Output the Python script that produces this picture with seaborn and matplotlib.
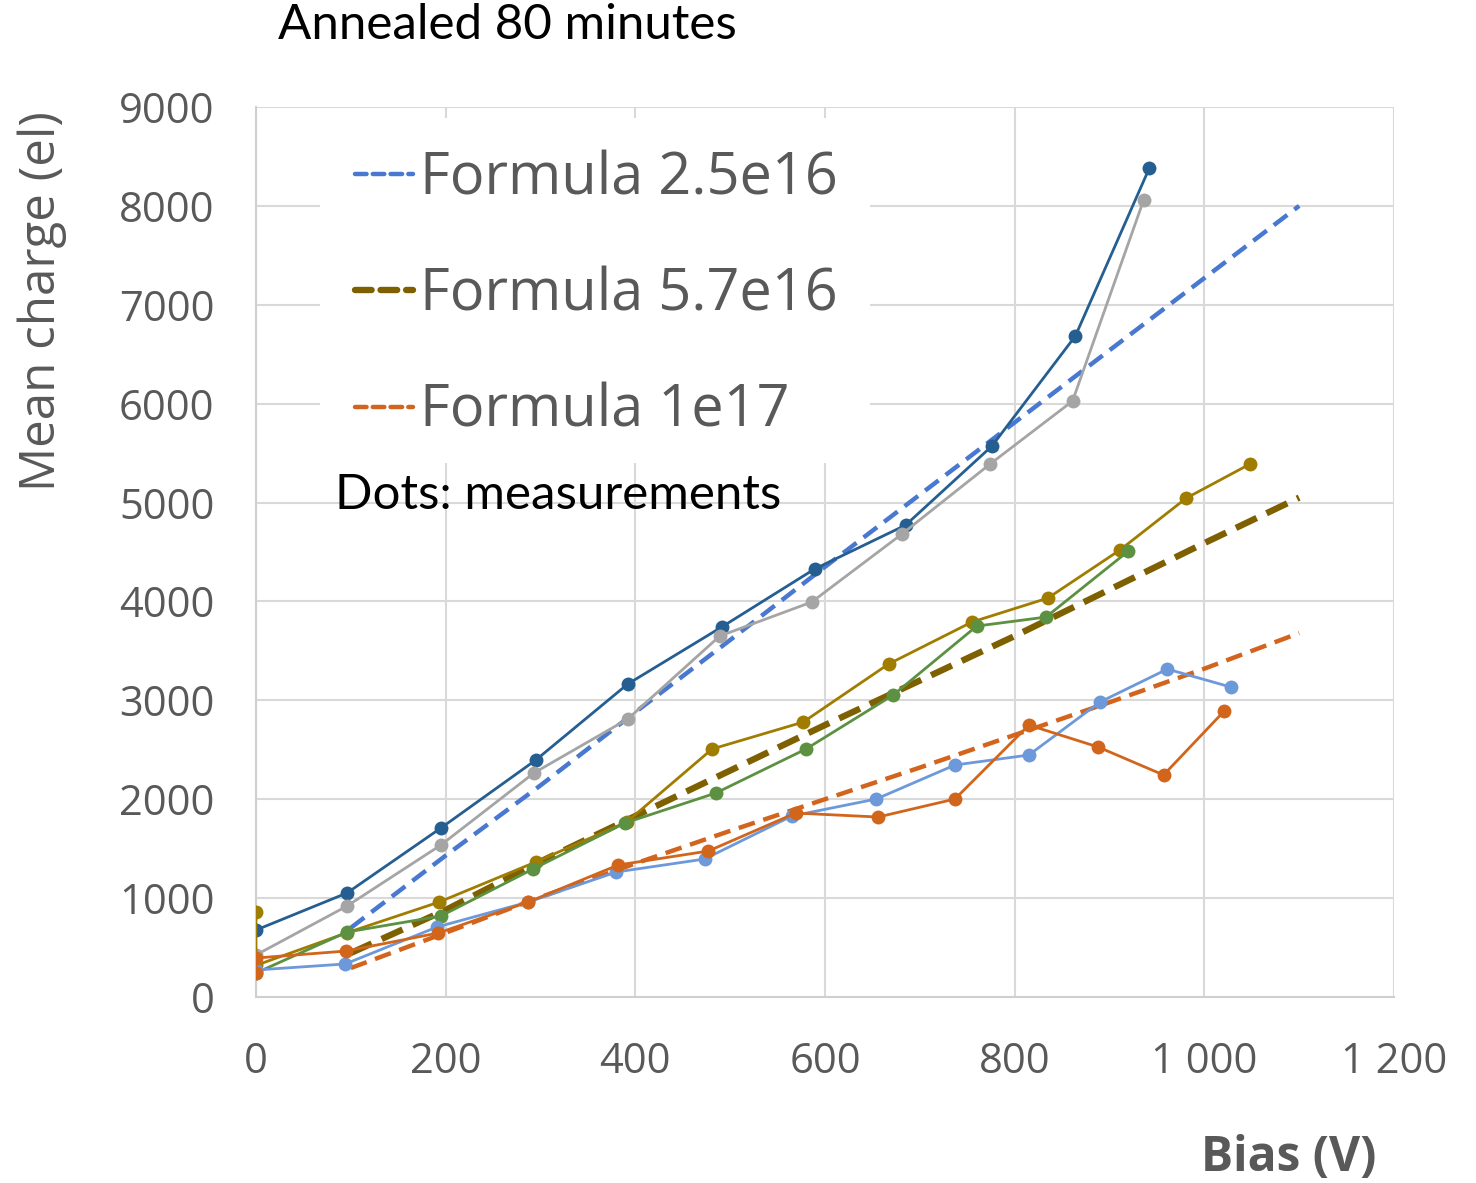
import matplotlib
matplotlib.use("Agg")
import matplotlib.pyplot as plt
import matplotlib.patches as mpatches
from matplotlib.lines import Line2D
from matplotlib.ticker import FuncFormatter
import seaborn as sns
import pandas as pd

# ---------------- data ----------------
bias_dark = [0, 96, 195, 295, 392, 491, 589, 685, 776, 864, 942]
q_dark = [677, 1052, 1709, 2396, 3165, 3741, 4328, 4772, 5571, 6684, 8382]

bias_gray = [0, 96, 195, 293, 392, 489, 586, 681, 774, 861, 936]
q_gray = [425, 920, 1537, 2265, 2811, 3650, 3994, 4681, 5389, 6026, 8059]

bias_gold = [0, 0, 96, 193, 295, 391, 481, 577, 667, 755, 835, 911, 981, 1048]
q_gold = [860, 320, 650, 960, 1365, 1770, 2508, 2780, 3367, 3792, 4034, 4520, 5045, 5389]

bias_green = [0, 96, 195, 292, 389, 485, 580, 672, 760, 833, 920]
q_green = [243, 657, 819, 1294, 1759, 2063, 2508, 3054, 3751, 3842, 4510]

bias_lblue = [0, 94, 191, 287, 380, 473, 565, 654, 737, 815, 890, 961, 1028]
q_lblue = [273, 334, 708, 960, 1264, 1395, 1830, 2002, 2346, 2447, 2983, 3316, 3134]

bias_orange = [0, 0, 95, 192, 287, 382, 477, 569, 656, 737, 815, 888, 957, 1021]
q_orange = [240, 394, 465, 647, 960, 1335, 1476, 1860, 1820, 2002, 2750, 2528, 2245, 2892]

bias_formula = [100, 200, 300, 400, 500, 600, 700, 800, 900, 1000, 1100]
f_25e16 = [700, 1430, 2140, 2880, 3610, 4350, 5080, 5810, 6540, 7270, 8000]
f_57e16 = [445, 880, 1370, 1830, 2290, 2750, 3200, 3650, 4120, 4590, 5050]
f_1e17 = [293, 650, 1010, 1350, 1680, 2000, 2320, 2650, 2980, 3320, 3680]

formula_labels = ["Formula 2.5e16", "Formula 5.7e16", "Formula 1e17"]
x_ticks = [0, 200, 400, 600, 800, 1000, 1200]
y_ticks = [0, 1000, 2000, 3000, 4000, 5000, 6000, 7000, 8000, 9000]

# ---------------- styling ----------------
sns.set_theme(style="white")
plt.rcParams["font.family"] = ["Open Sans", "DejaVu Sans"]

W, H = 1476, 1183
fig = plt.figure(figsize=(W / 100, H / 100), dpi=100)
ax = fig.add_axes([256 / W, 1 - 997 / H, 1138 / W, 890 / H])

TXT = "#595959"
GRID = "#d9d9d9"

meas = [
    (bias_dark, q_dark, "#255E91"),
    (bias_gray, q_gray, "#A5A5A5"),
    (bias_gold, q_gold, "#A07C00"),
    (bias_green, q_green, "#5B9140"),
    (bias_lblue, q_lblue, "#6D98DA"),
    (bias_orange, q_orange, "#D2651C"),
]
for bx, qy, col in meas:
    df = pd.DataFrame({"bias": bx, "q": qy})
    sns.lineplot(data=df, x="bias", y="q", ax=ax, color=col, lw=2.0,
                 marker="o", markersize=10, markeredgewidth=0,
                 estimator=None, sort=False, zorder=3)

formulas = [
    (f_25e16, "#4878CF", 3.2, (3.8, 2.0)),
    (f_57e16, "#7F6000", 4.6, (3.6, 1.7)),
    (f_1e17, "#D2641E", 3.2, (3.8, 2.0)),
]
handles = []
for (fy, col, lw, dsh), lab in zip(formulas, formula_labels):
    df = pd.DataFrame({"bias": bias_formula, "q": fy})
    sns.lineplot(data=df, x="bias", y="q", ax=ax, color=col, lw=lw,
                 estimator=None, sort=False, zorder=2.5)
    ln = ax.lines[-1]
    ln.set_dashes(dsh)
    ln.set_dash_capstyle("butt")
    # legend proxy with the Excel-like short "---" look
    handles.append(Line2D([], [], color=col, lw=lw, dashes=(2.6, 1.4),
                          dash_capstyle="round"))

ax.set_xlim(0, 1200)
ax.set_ylim(0, 9000)
ax.set_xticks(x_ticks)
ax.set_yticks(y_ticks)
ax.xaxis.set_major_formatter(FuncFormatter(lambda v, p: f"{int(v):,}".replace(",", " ")))
ax.yaxis.set_major_formatter(FuncFormatter(lambda v, p: f"{int(v)}"))
ax.grid(True, color=GRID, lw=1.5)
ax.set_axisbelow(True)
for s in ["top", "right"]:
    ax.spines[s].set_visible(False)
for s in ["left", "bottom"]:
    ax.spines[s].set_color("#cfcfcf")
    ax.spines[s].set_linewidth(1.5)
ax.tick_params(axis="both", length=0, labelsize=30, labelcolor=TXT)
ax.tick_params(axis="x", pad=32)
ax.tick_params(axis="y", pad=30)
ax.set_xlabel("")
ax.set_ylabel("")

# white legend area covering the gridlines
ax.add_patch(mpatches.Rectangle((320 / W, 1 - 463 / H), 550 / W, 345 / H,
                                transform=fig.transFigure, facecolor="white",
                                edgecolor="none", zorder=1))

leg = ax.legend(handles, formula_labels, loc="upper left",
                bbox_to_anchor=(355 / W, 1 - 150 / H), bbox_transform=fig.transFigure,
                frameon=False, fontsize=41.5, labelcolor=TXT, handlelength=1.0,
                handletextpad=0.12, labelspacing=1.0, borderpad=0, borderaxespad=0)
leg.set_zorder(5)

fig.text(278 / W, 1 - 25 / H, "Annealed 80 minutes", fontsize=35.5, color="black",
         family=["Lato", "DejaVu Sans"], ha="left", va="center")
fig.text(335 / W, 1 - 495 / H, "Dots: measurements", fontsize=35.5, color="black",
         family=["Lato", "DejaVu Sans"], ha="left", va="center", zorder=6)
fig.text(42 / W, 1 - 301 / H, "Mean charge (el)", fontsize=35.5, color=TXT,
         rotation=90, ha="center", va="center")
fig.text(1289 / W, 1 - 1158 / H, "Bias (V)", fontsize=34.5, color=TXT,
         fontweight="bold", ha="center", va="center")

fig.savefig("out.png", dpi=100, facecolor="white")
